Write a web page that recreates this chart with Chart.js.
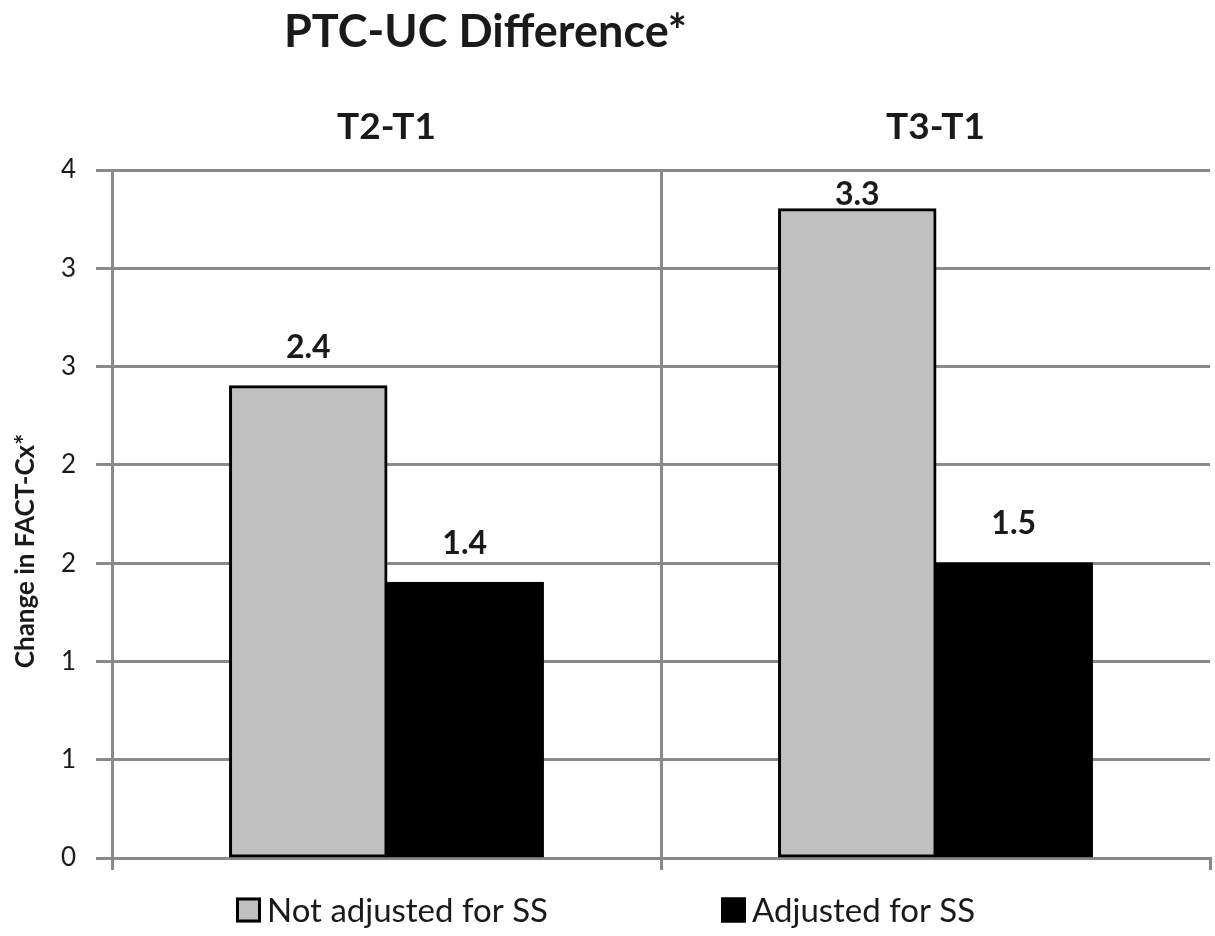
<!DOCTYPE html>
<html>
<head>
<meta charset="utf-8">
<script src="https://cdn.jsdelivr.net/npm/chart.js@4.4.1/dist/chart.umd.min.js"></script>
<style>
  html, body { margin: 0; padding: 0; background: #ffffff; }
  #wrap { width: 1215px; height: 936px; position: relative; }
</style>
</head>
<body>
<div id="wrap"><canvas id="chart" width="1215" height="936"></canvas></div>
<script>
// Categories and series
const categories = ['T2-T1', 'T3-T1'];
const seriesNames = ['Not adjusted for SS', 'Adjusted for SS'];
const notAdjusted = [2.4, 3.3];
const adjusted = [1.4, 1.5];
// Value axis: 0 to 3.5 in steps of 0.5, labels shown rounded to whole numbers
const yMin = 0;
const yMax = 3.5;
const yStep = 0.5;
const chartTitle = 'PTC-UC Difference*';
const yAxisTitle = 'Change in FACT-Cx*';

const FONT = 'Lato, "Open Sans", "DejaVu Sans", sans-serif';
const INK = '#1a1a1a';
const GRID = '#8a8a8a';

// Chart title and rotated value-axis title
const titlesPlugin = {
  id: 'titles',
  afterDraw(chart) {
    const ctx = chart.ctx;
    ctx.save();
    ctx.fillStyle = INK;
    ctx.font = 'bold 45px ' + FONT;
    ctx.textAlign = 'left';
    ctx.textBaseline = 'alphabetic';
    ctx.fillText(chartTitle, 284, 47);

    ctx.translate(26, 551);
    ctx.rotate(-Math.PI / 2);
    ctx.font = 'bold 26px ' + FONT;
    ctx.textAlign = 'center';
    ctx.textBaseline = 'middle';
    ctx.fillText(yAxisTitle, 0, 0);
    ctx.restore();
  }
};

// Value labels above each bar
const valueLabels = {
  id: 'valueLabels',
  afterDatasetsDraw(chart) {
    const ctx = chart.ctx;
    const top = chart.chartArea.top;
    ctx.save();
    ctx.fillStyle = INK;
    ctx.font = 'bold 32px ' + FONT;
    ctx.textAlign = 'center';
    ctx.textBaseline = 'middle';
    chart.data.datasets.forEach((ds, di) => {
      chart.getDatasetMeta(di).data.forEach((bar, i) => {
        const y = Math.max(bar.y - 39, top + 25);
        ctx.fillText(ds.data[i].toFixed(1), bar.x, y);
      });
    });
    ctx.restore();
  }
};

// Legend row under the plot
const legendRow = {
  id: 'legendRow',
  afterDraw(chart) {
    const ctx = chart.ctx;
    const starts = [236, 721];
    const size = 25;
    const cy = 910;
    ctx.save();
    ctx.font = '33px ' + FONT;
    ctx.textAlign = 'left';
    ctx.textBaseline = 'middle';
    chart.data.datasets.forEach((ds, i) => {
      const x = starts[i];
      ctx.fillStyle = ds.backgroundColor;
      ctx.fillRect(x, cy - size / 2, size, size);
      ctx.lineWidth = 3;
      ctx.strokeStyle = '#000000';
      ctx.strokeRect(x + 1.5, cy - size / 2 + 1.5, size - 3, size - 3);
      ctx.fillStyle = INK;
      ctx.fillText(ds.label, x + size + 6, cy + 1);
    });
    ctx.restore();
  }
};

new Chart(document.getElementById('chart'), {
  type: 'bar',
  data: {
    labels: categories,
    datasets: [
      {
        label: seriesNames[0],
        data: notAdjusted,
        backgroundColor: '#c0c0c0',
        borderColor: '#000000',
        borderWidth: 3,
        borderSkipped: false,
        inflateAmount: 1,
        xAxisID: 'x'
      },
      {
        label: seriesNames[1],
        data: adjusted,
        backgroundColor: '#000000',
        borderColor: '#000000',
        borderWidth: 3,
        borderSkipped: false,
        inflateAmount: 1,
        xAxisID: 'x'
      }
    ]
  },
  options: {
    responsive: false,
    animation: false,
    devicePixelRatio: 1,
    categoryPercentage: 0.57,
    barPercentage: 1.0,
    layout: { padding: { left: 0, right: 5, top: 0, bottom: 66 } },
    plugins: {
      legend: { display: false },
      title: { display: false },
      tooltip: { enabled: false }
    },
    scales: {
      x: {
        type: 'category',
        position: 'bottom',
        offset: true,
        grid: {
          offset: true,
          lineWidth: 3,
          color: (c) => (c.index === undefined ? 'rgba(0,0,0,0)' : GRID),
          tickColor: GRID,
          tickWidth: 3,
          tickLength: 12,
          drawTicks: true
        },
        border: { display: true, color: GRID, width: 3 },
        ticks: { display: false },
        afterFit(scale) { scale.height = 12; }
      },
      x2: {
        type: 'category',
        position: 'top',
        labels: categories,
        offset: true,
        grid: { display: false, drawTicks: false },
        border: { display: false },
        ticks: {
          color: INK,
          font: { family: FONT, size: 37, weight: 'bold' },
          padding: 21,
          maxRotation: 0
        },
        afterFit(scale) { scale.height = 170; }
      },
      y: {
        type: 'linear',
        min: yMin,
        max: yMax,
        position: 'left',
        grid: {
          color: GRID,
          lineWidth: 3,
          tickLength: 16,
          tickColor: GRID,
          tickWidth: 3
        },
        border: { display: true, color: GRID, width: 3 },
        ticks: {
          stepSize: yStep,
          color: INK,
          font: { family: FONT, size: 26 },
          padding: 20,
          callback: (v) => String(Math.round(v))
        },
        afterFit(scale) { scale.width = 112; }
      }
    }
  },
  plugins: [titlesPlugin, valueLabels, legendRow]
});
</script>
</body>
</html>
